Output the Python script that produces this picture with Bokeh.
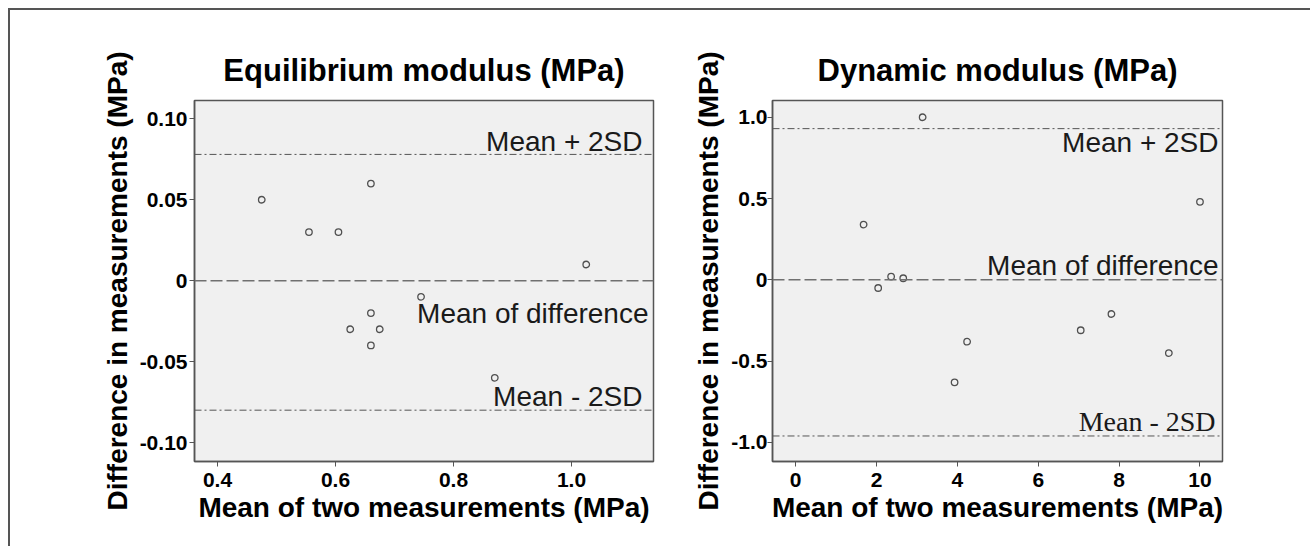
from bokeh.plotting import figure
from bokeh.layouts import row
from bokeh.models import Span, FixedTicker, Label, Range1d
from bokeh.embed import file_html
from bokeh.resources import INLINE

# ---------------- data ----------------
eq_mean = [0.475, 0.555, 0.605, 0.66, 1.025, 0.745, 0.66, 0.625, 0.675, 0.66, 0.87]
eq_diff = [0.05, 0.03, 0.03, 0.06, 0.01, -0.01, -0.02, -0.03, -0.03, -0.04, -0.06]
eq_limits = [0.0, 0.078, -0.080]          # mean, mean+2SD, mean-2SD

dyn_mean = [3.14, 1.68, 10.0, 2.36, 2.66, 2.04, 4.24, 3.93, 7.05, 7.81, 9.23]
dyn_diff = [1.0, 0.34, 0.48, 0.02, 0.01, -0.05, -0.38, -0.63, -0.31, -0.21, -0.45]
dyn_limits = [0.0, 0.93, -0.96]

eq_xticks = [0.4, 0.6, 0.8, 1.0]
eq_xlabels = ["0.4", "0.6", "0.8", "1.0"]
eq_yticks = [-0.10, -0.05, 0.0, 0.05, 0.10]
eq_ylabels = ["-0.10", "-0.05", "0", "0.05", "0.10"]

dyn_xticks = [0, 2, 4, 6, 8, 10]
dyn_xlabels = ["0", "2", "4", "6", "8", "10"]
dyn_yticks = [-1.0, -0.5, 0.0, 0.5, 1.0]
dyn_ylabels = ["-1.0", "-0.5", "0", "0.5", "1.0"]

titles = ["Equilibrium modulus (MPa)", "Dynamic modulus (MPa)"]
x_title = "Mean of two measurements (MPa)"
y_title = "Difference in measurements (MPa)"
line_texts = ["Mean of difference", "Mean + 2SD", "Mean - 2SD"]

SANS = "Liberation Sans"
SERIF = "Liberation Serif"


def make_panel(title, xs, ys, limits, xr, yr, xticks, xlabels, yticks, ylabels,
               width, mbl, mbr, ylab_standoff, text_specs):
    p = figure(width=width, height=536, output_backend="svg", toolbar_location=None,
               x_range=Range1d(*xr), y_range=Range1d(*yr),
               min_border_left=mbl, min_border_right=mbr,
               min_border_top=90, min_border_bottom=85,
               background_fill_color="#f0f0f0", border_fill_color="white")
    p.title.text = title
    p.title.align = "center"
    p.title.text_font = SANS
    p.title.text_font_size = "31px"
    p.title.text_font_style = "bold"
    p.title.text_color = "black"
    p.title.standoff = 25
    p.grid.visible = False
    p.outline_line_color = "#555555"
    p.outline_line_width = 1.5

    for ax, ticks, labels in ((p.xaxis[0], xticks, xlabels), (p.yaxis[0], yticks, ylabels)):
        ax.ticker = FixedTicker(ticks=ticks)
        ax.major_label_overrides = {t: l for t, l in zip(ticks, labels)}
        ax.major_label_text_font = SANS
        ax.major_label_text_font_size = "21px"
        ax.major_label_text_font_style = "bold"
        ax.major_label_text_color = "black"
        ax.axis_label_text_font = SANS
        ax.axis_label_text_font_size = "28px"
        ax.axis_label_text_font_style = "bold"
        ax.axis_label_text_color = "black"
        ax.axis_line_color = "#555555"
        ax.axis_line_width = 1.5
        ax.major_tick_line_color = "#555555"
        ax.major_tick_out = 5
        ax.major_tick_in = 0
        ax.minor_tick_line_color = None
    p.xaxis.axis_label = x_title
    p.yaxis.axis_label = y_title
    p.xaxis.major_label_standoff = 6
    p.yaxis.major_label_standoff = ylab_standoff
    p.xaxis.axis_label_standoff = 2
    p.yaxis.axis_label_standoff = 4

    mean, up, lo = limits
    p.add_layout(Span(location=mean, dimension="width", line_color="#707070",
                      line_width=1.5, line_dash="12 4"))
    for loc in (up, lo):
        p.add_layout(Span(location=loc, dimension="width", line_color="#555555",
                          line_width=1, line_dash="7 3 2 3"))

    p.scatter(xs, ys, marker="circle", size=6.5, fill_color=None,
              line_color="#505050", line_width=1.3)

    for txt, yloc, xoff, yoff, font in text_specs:
        p.add_layout(Label(x=xr[1], y=yloc, x_offset=xoff, y_offset=yoff, text=txt,
                           text_align="right", text_baseline="alphabetic",
                           text_font=font, text_font_size="28px", text_color="#1a1a1a"))
    return p


p1 = make_panel(titles[0], eq_mean, eq_diff, eq_limits, (0.361, 1.139), (-0.1117, 0.1113),
                eq_xticks, eq_xlabels, eq_yticks, eq_ylabels, 680, 184, 37, 2,
                [(line_texts[1], eq_limits[1], -11, 13, SANS),
                 (line_texts[0], eq_limits[0], -5, -33, SANS),
                 (line_texts[2], eq_limits[2], -11, 14, SANS)])
p2 = make_panel(titles[1], dyn_mean, dyn_diff, dyn_limits, (-0.574, 10.557), (-1.117, 1.103),
                dyn_xticks, dyn_xlabels, dyn_yticks, dyn_ylabels, 620, 78, 88, 0,
                [(line_texts[1], dyn_limits[1], -4, -14, SANS),
                 (line_texts[0], dyn_limits[0], -4, 14, SANS),
                 (line_texts[2], dyn_limits[2], -7, 14, SERIF)])

layout = row(p1, p2, styles={"border-top": "2px solid #555555",
                             "border-left": "2px solid #555555",
                             "margin-left": "8px", "margin-top": "8px"})

open("out.html", "w").write(file_html(layout, INLINE))
